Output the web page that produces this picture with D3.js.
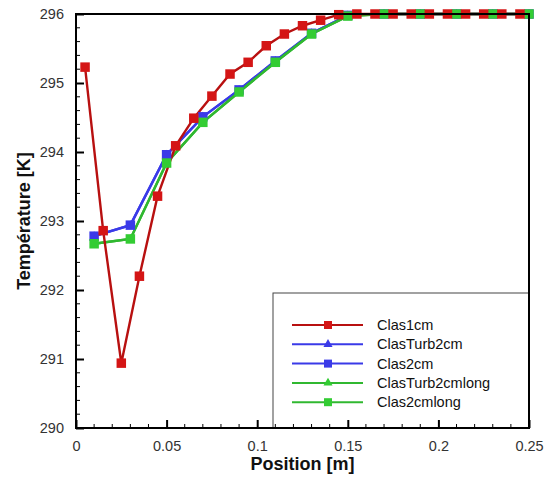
<!DOCTYPE html>
<html><head><meta charset="utf-8">
<script src="https://cdn.jsdelivr.net/npm/d3@7"></script>
<style>body{margin:0;background:#fff}svg{display:block}</style>
</head><body>
<script>
const xRed = [0.005,0.015,0.025,0.035,0.045,0.055,0.065,0.075,0.085,0.095,0.105,0.115,0.125,0.135,0.145,0.155,0.165,0.175,0.185,0.195,0.205,0.215,0.225,0.235,0.245];
const clas1cm = [295.23,292.86,290.94,292.20,293.36,294.09,294.49,294.81,295.13,295.30,295.54,295.71,295.83,295.91,295.99,296,296,296,296,296,296,296,296,296,296];
const x2cm = [0.01,0.03,0.05,0.07,0.09,0.11,0.13,0.15,0.17,0.19,0.21,0.23,0.25];
const clasTurb2cm = [292.78,292.94,293.96,294.51,294.90,295.32,295.72,295.98,296,296,296,296,296];
const clas2cm = [292.78,292.94,293.96,294.51,294.90,295.32,295.72,295.98,296,296,296,296,296];
const clasTurb2cmlong = [292.67,292.74,293.84,294.43,294.87,295.30,295.71,295.97,296,296,296,296,296];
const clas2cmlong = [292.67,292.74,293.84,294.43,294.87,295.30,295.71,295.97,296,296,296,296,296];
const xTicks = [0,0.05,0.1,0.15,0.2,0.25];
const xTickLabels = ["0","0.05","0.1","0.15","0.2","0.25"];
const yTicks = [290,291,292,293,294,295,296];

const series = [
  {name:"ClasTurb2cm", x:x2cm, y:clasTurb2cm, color:"#3a3ae8", line:"#3a3ae8", marker:"triangle"},
  {name:"Clas2cm", x:x2cm, y:clas2cm, color:"#3a3ae8", line:"#3a3ae8", marker:"square"},
  {name:"ClasTurb2cmlong", x:x2cm, y:clasTurb2cmlong, color:"#33cc33", line:"#30b830", marker:"triangle"},
  {name:"Clas2cmlong", x:x2cm, y:clas2cmlong, color:"#33cc33", line:"#30b830", marker:"square"},
  {name:"Clas1cm", x:xRed, y:clas1cm, color:"#d41515", line:"#b81010", marker:"square"}
];
const legendOrder = ["Clas1cm","ClasTurb2cm","Clas2cm","ClasTurb2cmlong","Clas2cmlong"];

const W=544,H=480, L=76,R=529,T=14,B=428;
const svg=d3.select("body").append("svg").attr("width",W).attr("height",H);
const x=d3.scaleLinear().domain([0,0.25]).range([L,R]);
const y=d3.scaleLinear().domain([290,296]).range([B,T]);

svg.append("rect").attr("x",0).attr("y",0).attr("width",W).attr("height",H).attr("fill","#fff");

const g=svg.append("g");
const ptsOf=s=>s.x.map((v,i)=>[x(v),y(s.y[i])]);
// lines (2cm series first, red last)
series.forEach(s=>{
  g.append("path").attr("d",d3.line()(ptsOf(s))).attr("fill","none").attr("stroke",s.line).attr("stroke-width",2.4);
});
// markers: triangles beneath squares
series.filter(s=>s.marker==="triangle").concat(series.filter(s=>s.marker==="square")).forEach(s=>{
  const sym = s.marker==="square"?d3.symbolSquare:d3.symbolTriangle;
  const size = s.marker==="square"?90:32;
  g.selectAll(null).data(ptsOf(s)).enter().append("path")
    .attr("transform",d=>`translate(${d[0]},${d[1]})`)
    .attr("d",d3.symbol().type(sym).size(size)).attr("fill",s.color);
});

// legend
const lg=svg.append("g");
lg.append("rect").attr("x",273).attr("y",293).attr("width",R-273).attr("height",B-293)
  .attr("fill","#fff").attr("stroke","#444").attr("stroke-width",1);
legendOrder.forEach((n,i)=>{
  const s=series.find(d=>d.name===n);
  const yy=325+i*19.3;
  lg.append("line").attr("x1",292).attr("x2",363).attr("y1",yy).attr("y2",yy).attr("stroke",s.line).attr("stroke-width",2);
  const sym = s.marker==="square"?d3.symbolSquare:d3.symbolTriangle;
  lg.append("path").attr("transform",`translate(328,${yy})`).attr("d",d3.symbol().type(sym).size(s.marker==="square"?64:36)).attr("fill",s.color);
  lg.append("text").attr("x",377).attr("y",yy+5).text(n)
    .attr("font-family","Liberation Sans, Arial, sans-serif").attr("font-size",14.5).attr("fill","#111");
});

// axes
const xAxis=d3.axisBottom(x).tickValues(xTicks).tickFormat((d,i)=>xTickLabels[i]).tickSizeInner(-8).tickSizeOuter(0).tickPadding(13);
const xa=svg.append("g").attr("transform",`translate(0,${B})`).call(xAxis);
const xMinor=d3.range(0,0.2501,0.01).filter(v=>Math.abs(v/0.05-Math.round(v/0.05))>1e-6);
xa.selectAll(".minor").data(xMinor).enter().append("line").attr("class","minor")
  .attr("x1",d=>x(d)).attr("x2",d=>x(d)).attr("y1",0).attr("y2",-4).attr("stroke","#000");
const yAxis=d3.axisLeft(y).tickValues(yTicks).tickFormat(d3.format("d")).tickSizeInner(-8).tickSizeOuter(0).tickPadding(12);
const ya=svg.append("g").attr("transform",`translate(${L},0)`).call(yAxis);
const yMinor=d3.range(290,296.001,0.2).filter(v=>Math.abs(v-Math.round(v))>1e-6);
ya.selectAll(".minor").data(yMinor).enter().append("line").attr("class","minor")
  .attr("x1",0).attr("x2",4).attr("y1",d=>y(d)).attr("y2",d=>y(d)).attr("stroke","#000");
[xa,ya].forEach(a=>{
  a.select(".domain").remove();
  a.selectAll(".tick line").attr("stroke","#000").attr("stroke-width",2);
  a.selectAll("text").attr("font-family","Liberation Sans, Arial, sans-serif").attr("font-size",14.5).attr("fill","#333");
});
ya.selectAll(".tick text").attr("dy","0.32em");

svg.append("rect").attr("x",L).attr("y",T).attr("width",R-L).attr("height",B-T)
  .attr("fill","none").attr("stroke","#000").attr("stroke-width",2);

svg.append("text").attr("x",(L+R)/2).attr("y",470).attr("text-anchor","middle")
  .attr("font-family","Liberation Sans, Arial, sans-serif").attr("font-weight","bold").attr("font-size",18).attr("fill","#111")
  .text("Position [m]");
svg.append("text").attr("transform",`translate(30,${(T+B)/2}) rotate(-90)`).attr("text-anchor","middle")
  .attr("font-family","Liberation Sans, Arial, sans-serif").attr("font-weight","bold").attr("font-size",18).attr("fill","#111")
  .text("Température [K]");
</script>
</body></html>
